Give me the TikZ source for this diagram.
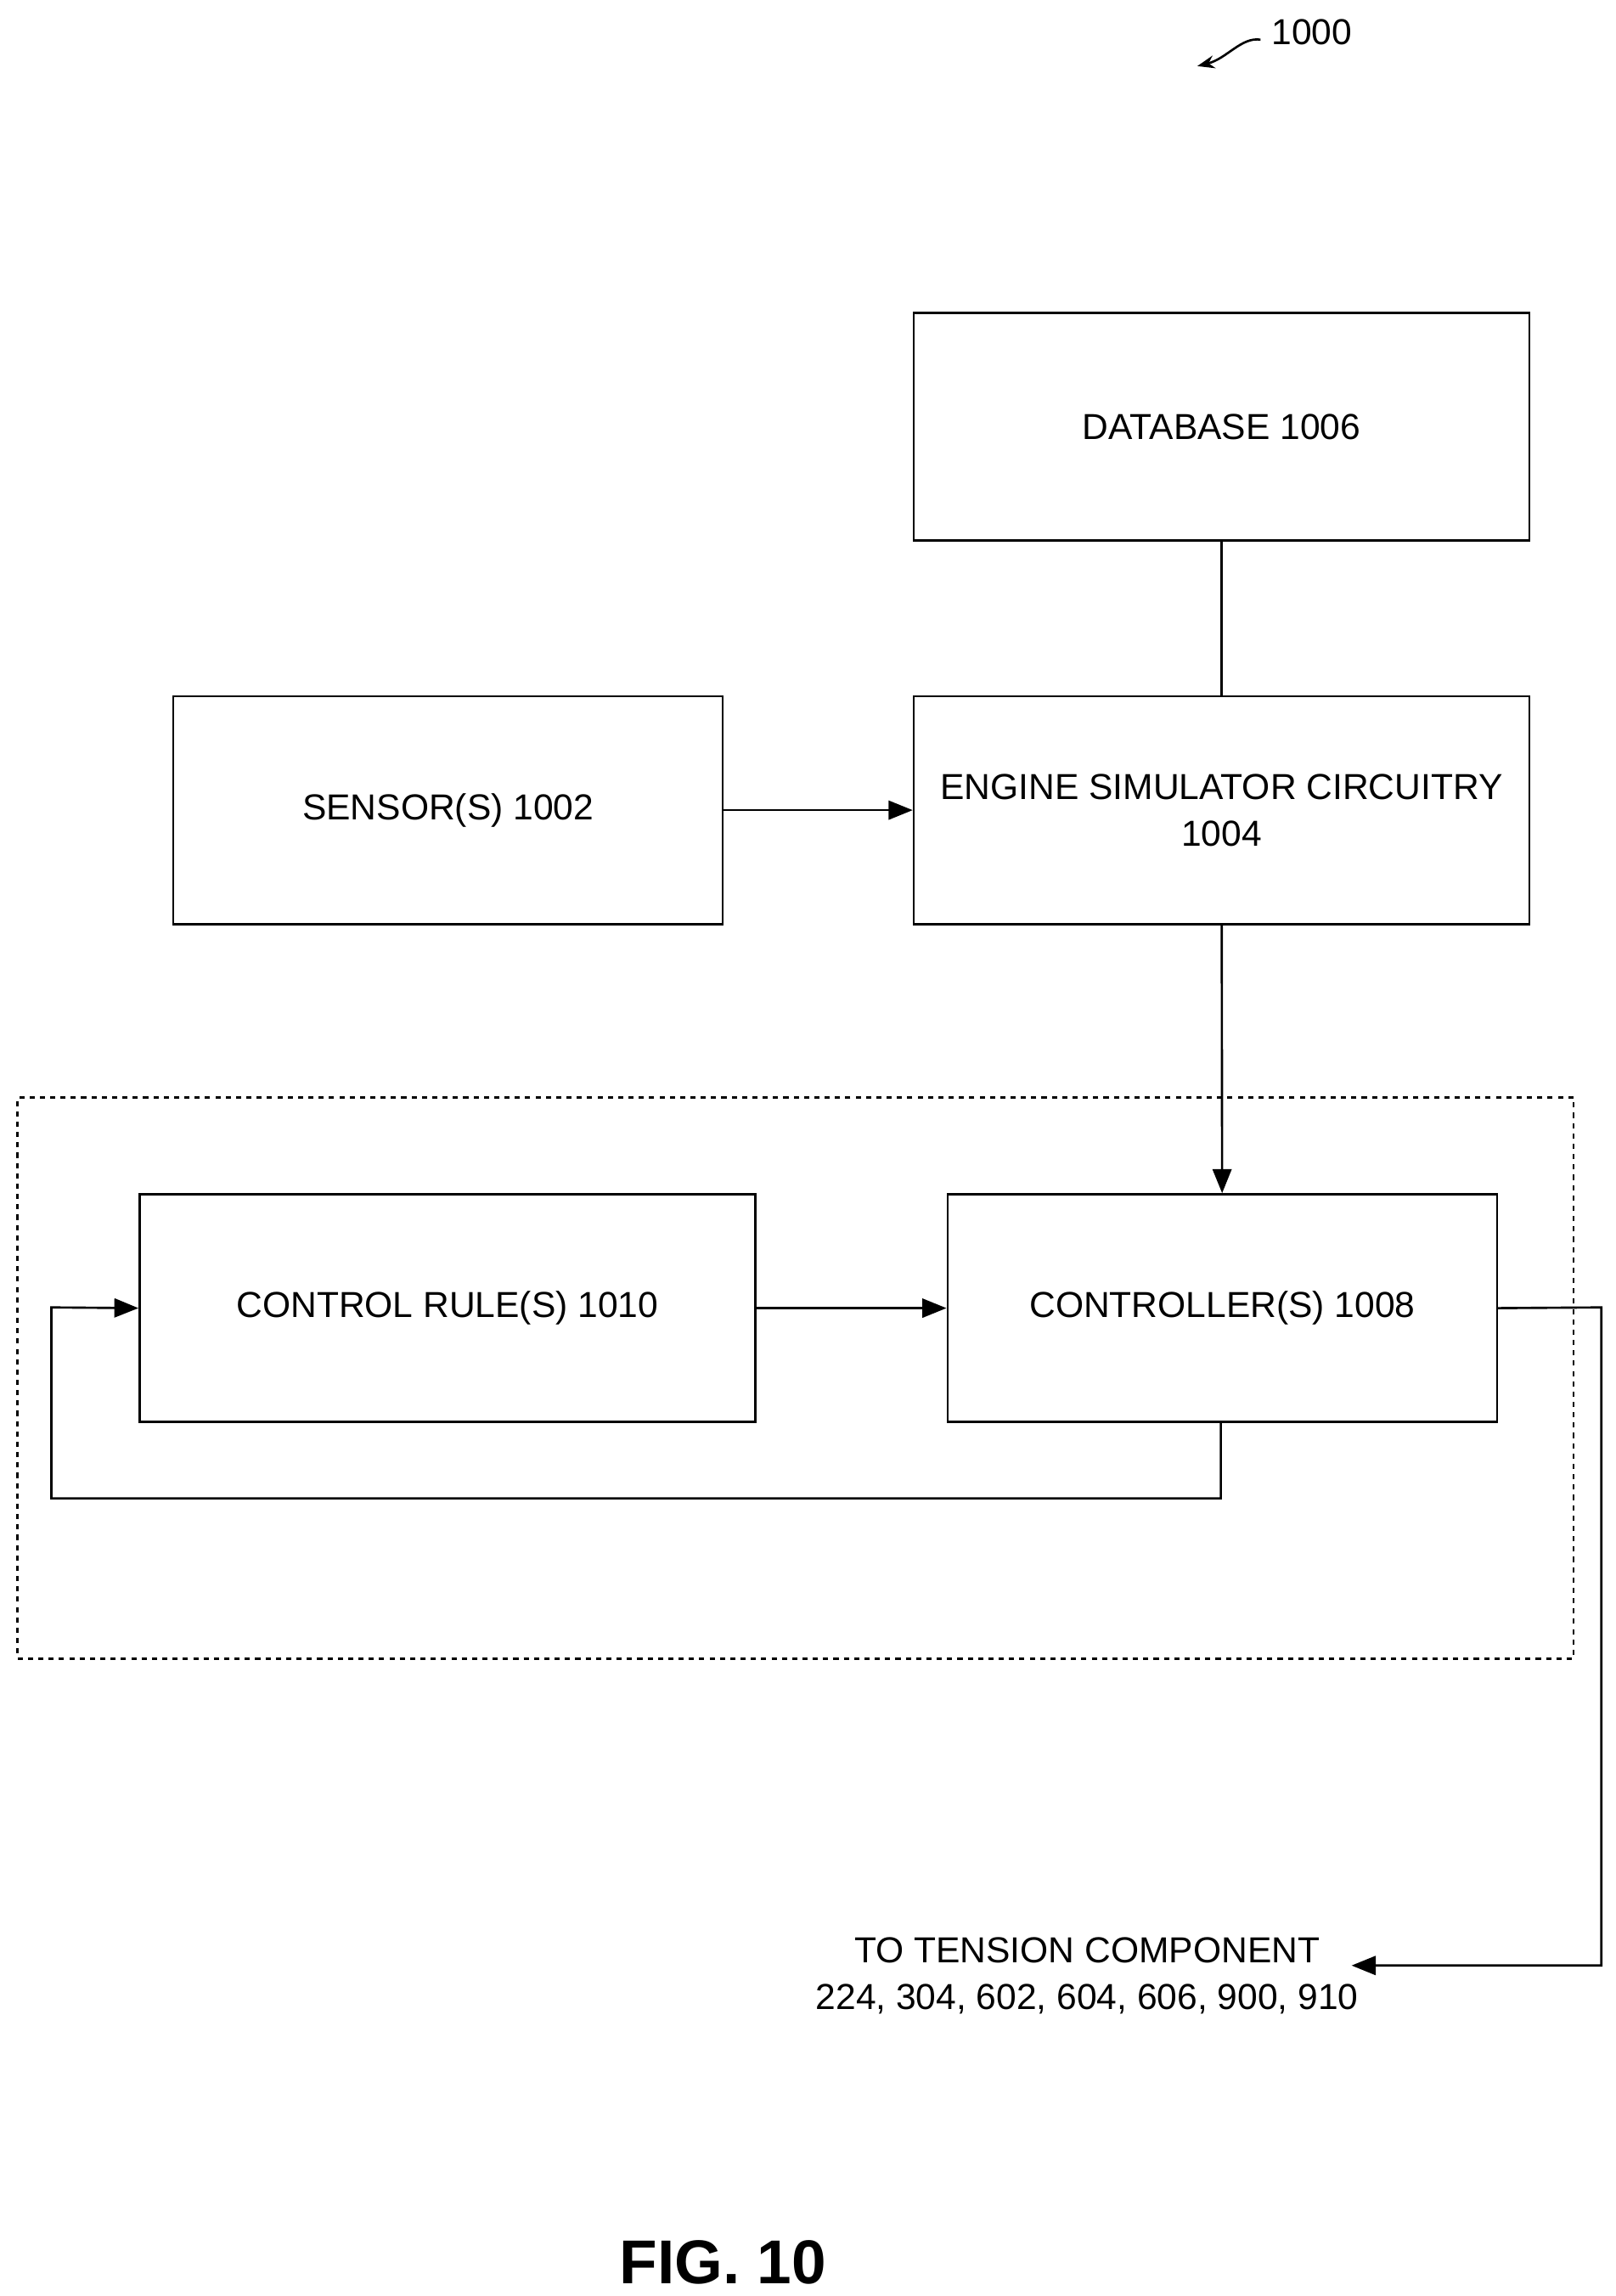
\documentclass[tikz,border=0pt]{standalone}
\usepackage{fontspec}
\setmainfont{Liberation Sans}
\usetikzlibrary{arrows.meta}
\begin{document}
\begin{tikzpicture}[x=0.03cm,y=-0.03cm,
  box/.style={draw,line width=1.3pt,minimum width=419*0.03cm,minimum height=155*0.03cm,align=center,font=\fontsize{21}{27}\selectfont},
  ln/.style={line width=1.3pt},
  arr/.style={ln,-{Triangle[length=14pt,width=11pt]}},
  lbl/.style={font=\fontsize{21}{27}\selectfont}]
\useasboundingbox (0,0) rectangle (1100,1563);
\node[box] (db) at (831.5,290.5) {DATABASE 1006};
\node[box] (eng) at (831.5,551.5) {ENGINE SIMULATOR CIRCUITRY\\1004};
\node[box,minimum width=374*0.03cm] (sen) at (305,551.5) {SENSOR(S) 1002};
\node[box] (cr) at (304.5,890.5) {CONTROL RULE(S) 1010};
\node[box,minimum width=374*0.03cm] (ctl) at (832,890.5) {CONTROLLER(S) 1008};
\node[draw,dashed,line width=1.3pt,minimum width=1059*0.03cm,minimum height=382*0.03cm] (grp) at (541.5,938) {};
\draw[ln] (db) -- (eng);
\draw[arr] (sen) -- (eng);
\draw[arr] (eng) -- (ctl);
\draw[arr] (cr) -- (ctl);
\coordinate (f1) at (831,1020);
\coordinate (f2) at (35,1020);
\coordinate (f3) at (35,890);
\draw[arr] (ctl.south -| f1) -- (f1) -- (f2) -- (f3) -- (cr.west);
\coordinate (o1) at (1090,890);
\coordinate (o2) at (1090,1338);
\coordinate (o3) at (920,1338);
\draw[arr] (ctl.east) -- (o1) -- (o2) -- (o3);
\node[lbl,align=center] (tc) at (740,1345) {TO TENSION COMPONENT\\224, 304, 602, 604, 606, 900, 910};
\node[font=\bfseries\fontsize{36}{40}\selectfont] (fig) at (492,1540) {FIG. 10};
\node[lbl] (ref) at (893,22) {1000};
\coordinate (r0) at (858,27);
\draw[ln,-{Stealth[length=10pt]}] (r0) .. controls (845,25) and (835,40) .. (815,45);
\end{tikzpicture}
\end{document}
